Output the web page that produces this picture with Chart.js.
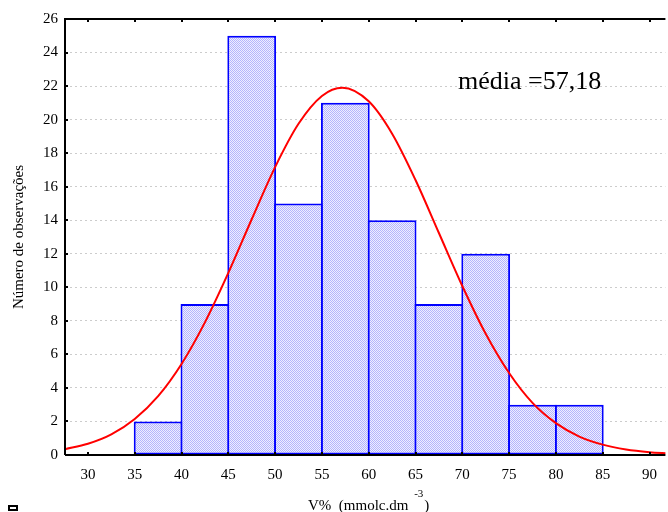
<!DOCTYPE html>
<html>
<head>
<meta charset="utf-8">
<script src="https://cdn.jsdelivr.net/npm/chart.js@4/dist/chart.umd.min.js"></script>
<style>
  html, body { margin: 0; padding: 0; background: #fff; }
  #wrap { width: 668px; height: 512px; position: relative; }
</style>
</head>
<body>
<div id="wrap"><canvas id="c" width="668" height="512"></canvas></div>
<script>
// Histogram classes (bin centres, width 5) and observed counts
const binCenters = [37.5, 42.5, 47.5, 52.5, 57.5, 62.5, 67.5, 72.5, 77.5, 82.5];
const counts     = [2, 9, 25, 15, 21, 14, 9, 12, 3, 3];

// Fitted normal curve, sampled along the V% axis
const curveX = [27.5, 30, 32.5, 35, 37.5, 40, 42.5, 45, 47.5, 50, 52.5, 55, 57.18, 60, 62.5, 65, 67.5, 70, 72.5, 75, 77.5, 80, 82.5, 85, 87.5, 90, 92];
const curveY = [0.34, 0.67, 1.23, 2.15, 3.51, 5.43, 7.91, 10.86, 14.06, 17.17, 19.75, 21.41, 21.9, 21.09, 19.16, 16.40, 13.24, 10.08, 7.23, 4.89, 3.11, 1.9, 1.1, 0.62, 0.33, 0.17, 0.1];

const xTicks = [30, 35, 40, 45, 50, 55, 60, 65, 70, 75, 80, 85, 90];
const yTicks = [0, 2, 4, 6, 8, 10, 12, 14, 16, 18, 20, 22, 24, 26];

const meanLabel = 'média =57,18';
const yTitle = 'Número de observações';
const xTitleMain = 'V%  (mmolc.dm ';
const xTitleSup = '-3';
const xTitleEnd = ')';

const SERIF = "'Liberation Serif', 'Times New Roman', serif";

// Dithered light-blue fill for the bars
function makeFill() {
  const p = document.createElement('canvas');
  p.width = 2; p.height = 2;
  const g = p.getContext('2d');
  g.fillStyle = '#eeeeff'; g.fillRect(0, 0, 2, 2);
  g.fillStyle = '#b4b4fc'; g.fillRect(0, 0, 1, 1); g.fillRect(1, 1, 1, 1);
  return g.createPattern(p, 'repeat');
}

// Frame, inner tick marks and text annotations
const framePlugin = {
  id: 'frame',
  afterDatasetsDraw(chart) {
    const { ctx, chartArea: a, scales } = chart;
    ctx.save();
    ctx.strokeStyle = '#000';
    ctx.lineWidth = 2;
    ctx.beginPath();
    ctx.moveTo(a.left, a.bottom); ctx.lineTo(a.left, a.top); ctx.lineTo(a.right, a.top);
    ctx.moveTo(a.left, a.bottom); ctx.lineTo(a.right, a.bottom);
    ctx.stroke();
    ctx.beginPath();
    xTicks.forEach(v => {
      const x = Math.round(scales.x.getPixelForValue(v));
      ctx.moveTo(x, a.top); ctx.lineTo(x, a.top + 3);
      ctx.moveTo(x, a.bottom); ctx.lineTo(x, a.bottom - 3);
    });
    yTicks.forEach(v => {
      const y = Math.round(scales.y.getPixelForValue(v));
      ctx.moveTo(a.left, y); ctx.lineTo(a.left + 3, y);
    });
    ctx.stroke();

    // mean annotation
    ctx.fillStyle = '#000';
    ctx.font = '26px ' + SERIF;
    ctx.textAlign = 'left';
    ctx.textBaseline = 'alphabetic';
    ctx.fillText(meanLabel, 458, 89);

    // x-axis title with superscript
    ctx.font = '15px ' + SERIF;
    const w1 = ctx.measureText(xTitleMain).width;
    ctx.font = '11px ' + SERIF;
    const w2 = ctx.measureText(xTitleSup).width;
    let x0 = 308;
    ctx.font = '15px ' + SERIF;
    ctx.fillText(xTitleMain, x0, 510);
    ctx.font = '11px ' + SERIF;
    ctx.fillText(xTitleSup, x0 + w1 + 2, 497);
    ctx.font = '15px ' + SERIF;
    ctx.fillText(xTitleEnd, x0 + w1 + w2 + 3, 510);

    // small marker at the lower-left corner
    ctx.fillStyle = '#000';
    ctx.fillRect(8, 505, 10, 6);
    ctx.fillStyle = '#fff';
    ctx.fillRect(10, 507, 6, 2);
    ctx.restore();
  }
};

const ctx = document.getElementById('c').getContext('2d');
new Chart(ctx, {
  type: 'bar',
  data: {
    datasets: [
      {
        type: 'line',
        data: curveX.map((x, i) => ({ x, y: curveY[i] })),
        borderColor: '#ff0000',
        borderWidth: 2,
        pointRadius: 0,
        cubicInterpolationMode: 'monotone',
        fill: false,
        order: 0
      },
      {
        type: 'bar',
        data: binCenters.map((x, i) => ({ x, y: counts[i] })),
        backgroundColor: makeFill(),
        borderColor: '#0000ff',
        borderWidth: 2,
        borderSkipped: false,
        categoryPercentage: 1,
        barPercentage: 49 / 47,
        order: 1
      }
    ]
  },
  options: {
    responsive: false,
    animation: false,
    devicePixelRatio: 1,
    layout: { padding: { top: 19, right: 0, left: 0, bottom: 0 } },
    plugins: { legend: { display: false }, tooltip: { enabled: false } },
    scales: {
      x: {
        type: 'linear',
        offset: false,
        min: 27.55,
        max: 91.7,
        afterBuildTicks: s => { s.ticks = xTicks.map(v => ({ value: v })); },
        afterFit: s => { s.height = 57; },
        grid: { display: false, drawTicks: false },
        border: { display: false },
        ticks: { color: '#000', padding: 11, font: { family: SERIF, size: 15 }, maxRotation: 0 },
        title: { display: false }
      },
      y: {
        min: 0,
        max: 26,
        afterBuildTicks: s => { s.ticks = yTicks.map(v => ({ value: v })); },
        afterFit: s => { s.width = 65; },
        grid: {
          drawTicks: false,
          color: c => (c.tick && (c.tick.value === 0 || c.tick.value === 26)) ? 'rgba(0,0,0,0)' : '#cccccc',
          lineWidth: 1
        },
        border: { display: false, dash: [2, 3] },
        ticks: { color: '#000', padding: 7, font: { family: SERIF, size: 15 } },
        title: {
          display: true,
          text: yTitle,
          color: '#000',
          font: { family: SERIF, size: 15 },
          padding: { top: 10, bottom: 0 }
        }
      }
    }
  },
  plugins: [framePlugin]
});
</script>
</body>
</html>
